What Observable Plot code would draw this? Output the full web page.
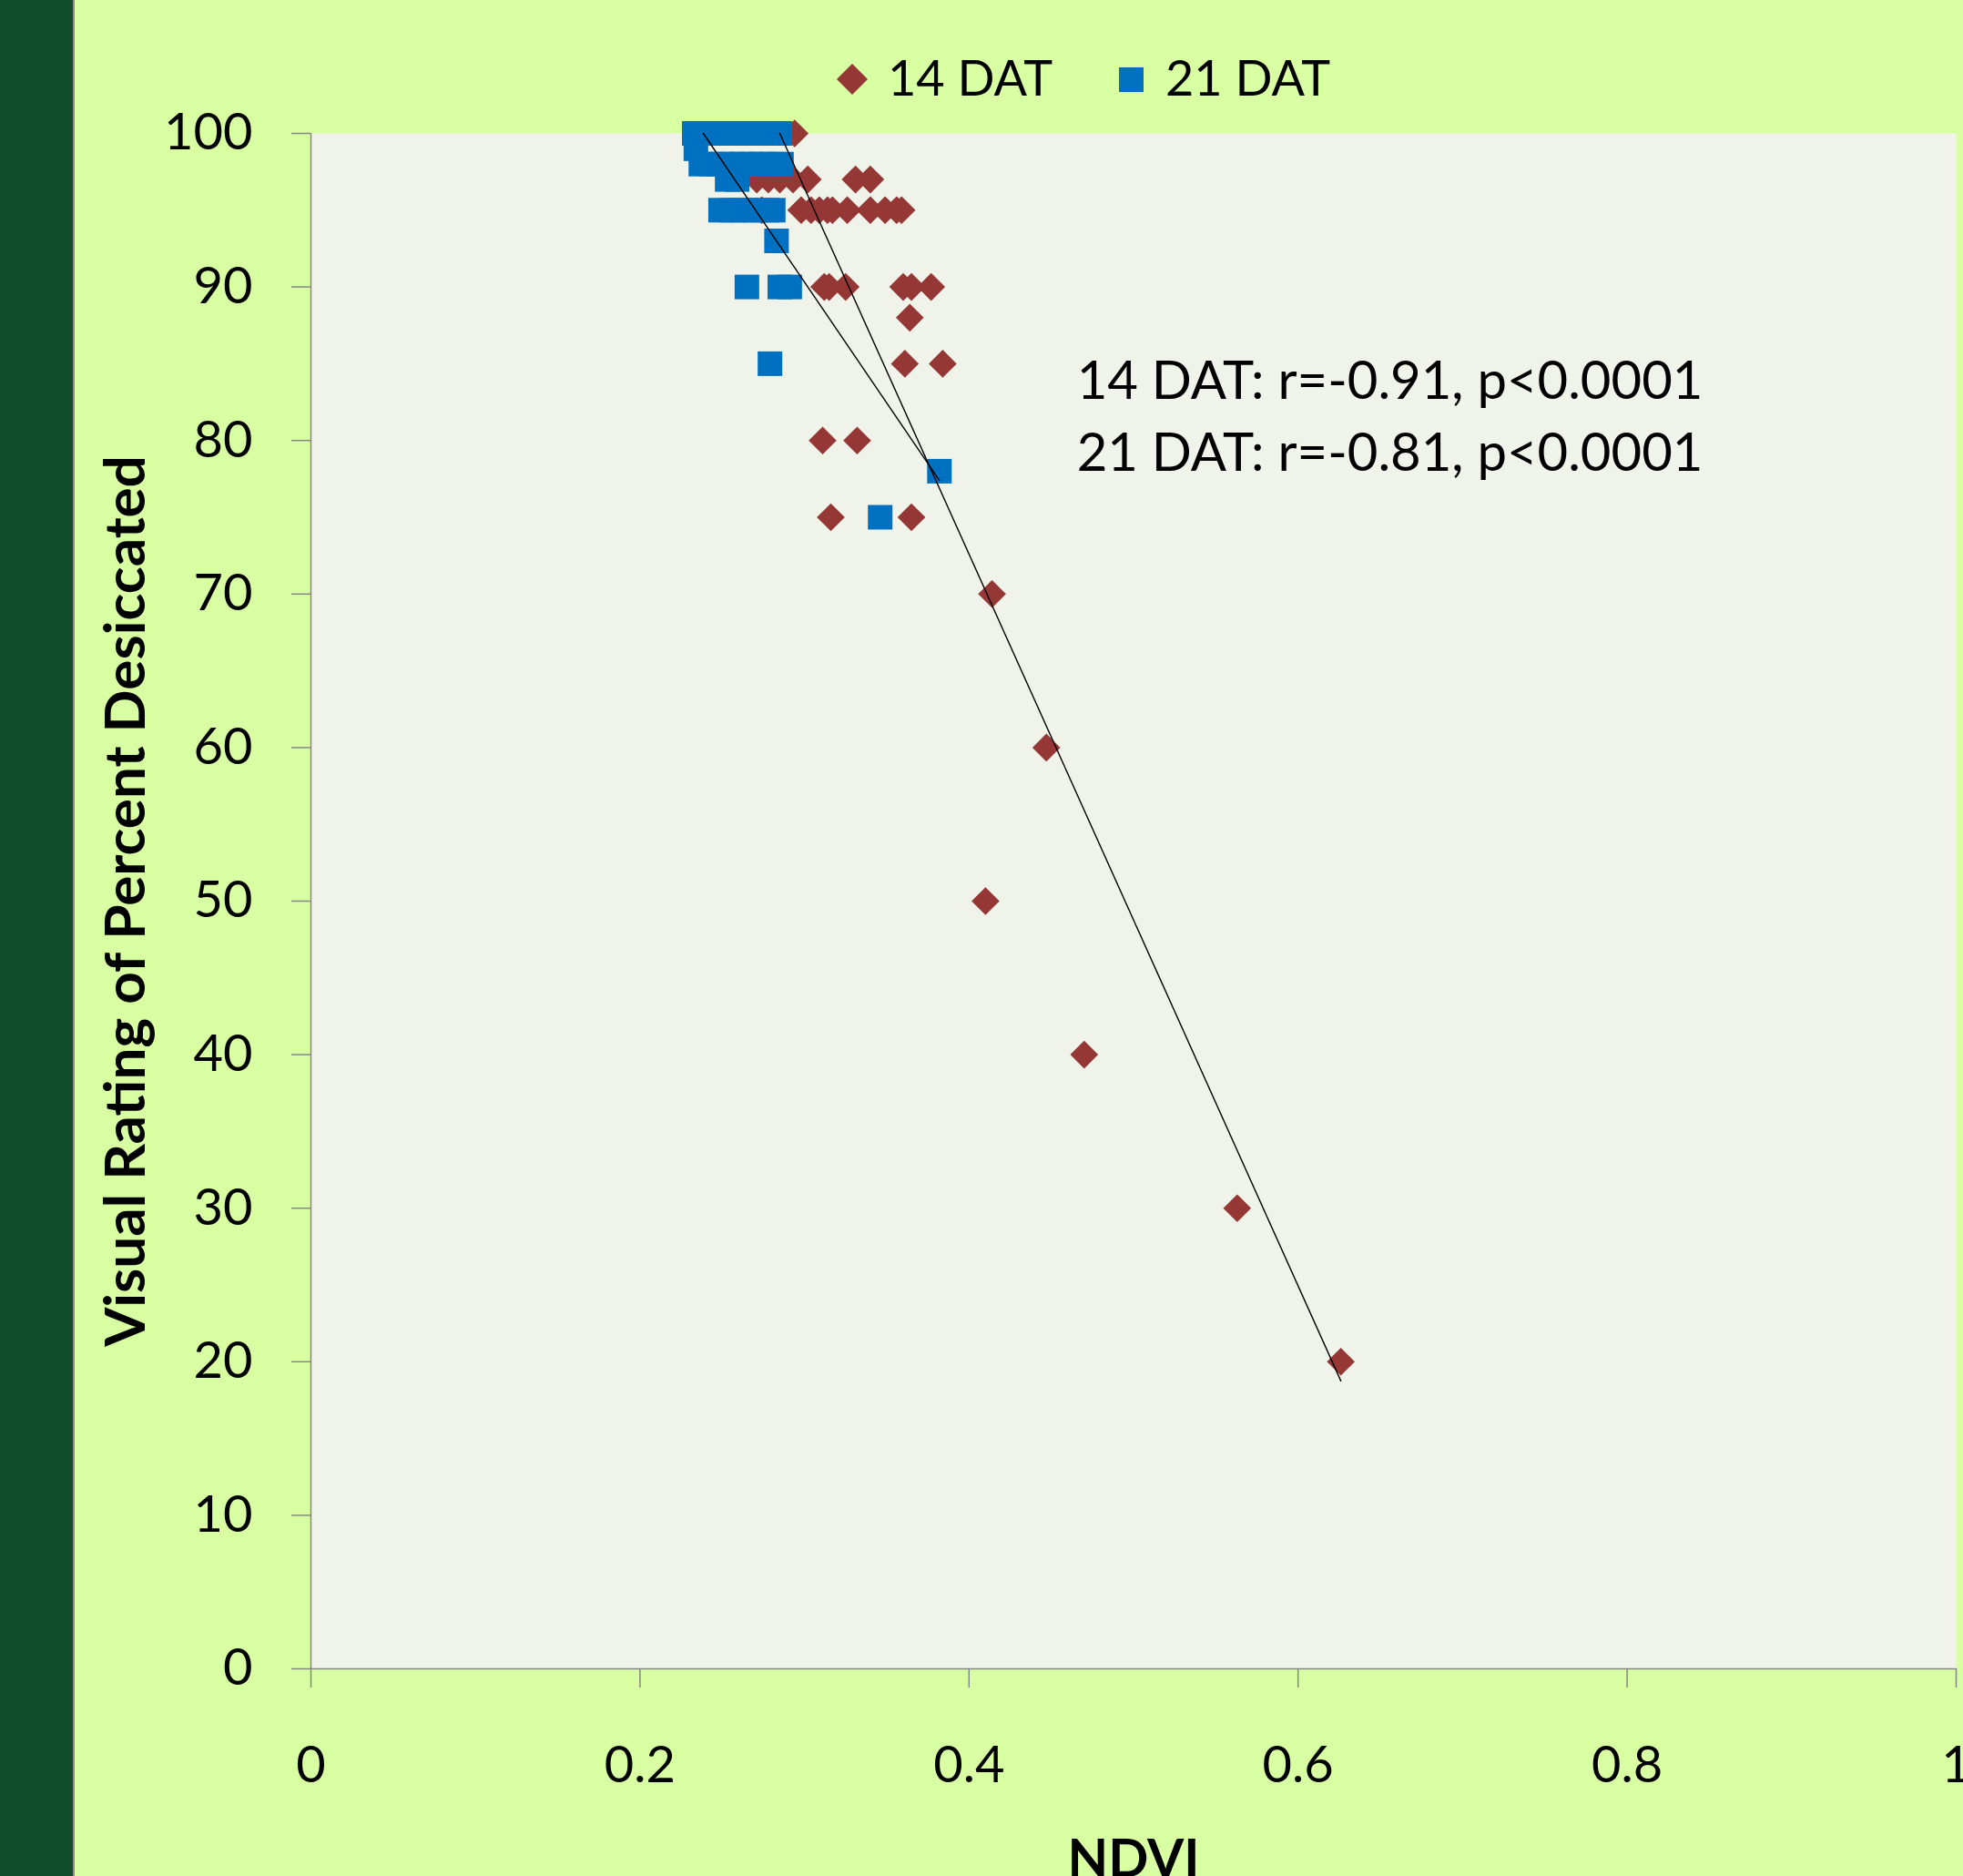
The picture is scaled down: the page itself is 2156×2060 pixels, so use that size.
<!DOCTYPE html>
<html>
<head>
<meta charset="utf-8">
<script src="https://cdn.jsdelivr.net/npm/d3@7"></script>
<script src="https://cdn.jsdelivr.net/npm/@observablehq/plot@0.6"></script>
<style>
  html, body { margin: 0; padding: 0; overflow: hidden; background: #D9FFA3; }
  #wrap { position: relative; width: 2156px; height: 2060px; background: #D9FFA3; overflow: hidden; font-family: Lato, "Open Sans", sans-serif; }
  #strip { position: absolute; left: 0; top: 0; width: 80px; height: 2060px; background: #104E2A; border-right: 2px solid #8C8C8C; }
  #chart { position: absolute; left: 0; top: 0; }
  .leg { position: absolute; font-size: 54px; line-height: 54px; color: #000; white-space: nowrap; }
  .legsym { position: absolute; }
</style>
</head>
<body>
<div id="wrap">
  <div id="strip"></div>
  <div id="chart"></div>
  <div id="legend"></div>
</div>
<script>
// ---------------- data ----------------
const seriesNames = ["14 DAT", "21 DAT"];

// 14 DAT (diamonds)
const ndvi14 = [0.294,
  0.271, 0.278, 0.285, 0.293, 0.302, 0.331, 0.340,
  0.274, 0.298, 0.304, 0.309, 0.314, 0.317, 0.326, 0.340, 0.349, 0.356, 0.359,
  0.312, 0.315, 0.325, 0.360, 0.365, 0.377,
  0.364,
  0.361, 0.384,
  0.311, 0.332,
  0.316, 0.365,
  0.414, 0.447, 0.410, 0.470, 0.563, 0.626];
const rating14 = [100,
  97, 97, 97, 97, 97, 97, 97,
  95, 95, 95, 95, 95, 95, 95, 95, 95, 95, 95,
  90, 90, 90, 90, 90, 90,
  88,
  85, 85,
  80, 80,
  75, 75,
  70, 60, 50, 40, 30, 20];

// 21 DAT (squares)
const ndvi21 = [0.233, 0.238, 0.243, 0.248, 0.253, 0.258, 0.263, 0.268, 0.273, 0.278, 0.285,
  0.234,
  0.237, 0.243, 0.250, 0.256, 0.262, 0.268, 0.274, 0.280, 0.286,
  0.253, 0.259,
  0.249, 0.256, 0.263, 0.270, 0.277, 0.281,
  0.283,
  0.265, 0.285, 0.291,
  0.279,
  0.382,
  0.346];
const rating21 = [100, 100, 100, 100, 100, 100, 100, 100, 100, 100, 100,
  99,
  98, 98, 98, 98, 98, 98, 98, 98, 98,
  97, 97,
  95, 95, 95, 95, 95, 95,
  93,
  90, 90, 90,
  85,
  78,
  75];

// Linear trendlines (end points)
const trend14Ndvi = [0.285, 0.626];
const trend14Rating = [100, 18.75];
const trend21Ndvi = [0.2385, 0.382];
const trend21Rating = [100, 77.4];

// Axis ticks and labels
const xTicks = [0, 0.2, 0.4, 0.6, 0.8, 1];
const xTickLabels = ["0", "0.2", "0.4", "0.6", "0.8", "1"];
const yTicks = [0, 10, 20, 30, 40, 50, 60, 70, 80, 90, 100];

const xTitle = "NDVI";
const yTitle = "Visual Rating of Percent Desiccated";
const annotLines = ["14 DAT: r=-0.91, p<0.0001", "21 DAT: r=-0.81, p<0.0001"];

// ---------------- build tables ----------------
const d14 = ndvi14.map((x, i) => ({ndvi: x, rating: rating14[i], series: seriesNames[0]}));
const d21 = ndvi21.map((x, i) => ({ndvi: x, rating: rating21[i], series: seriesNames[1]}));
const t14 = trend14Ndvi.map((x, i) => ({ndvi: x, rating: trend14Rating[i]}));
const t21 = trend21Ndvi.map((x, i) => ({ndvi: x, rating: trend21Rating[i]}));

// ---------------- styles ----------------
const red = "#953735";
const blue = "#0070C0";
const plotBg = "#F0F3EA";
const axisGray = "#868686";
const annotX = 0.4655;
const annotY = [82.74, 78.0];
const annot = annotLines.map((t, i) => ({text: t, x: annotX, y: annotY[i]}));

const chart = Plot.plot({
  width: 2156,
  height: 2060,
  marginLeft: 341,
  marginRight: 8,
  marginTop: 146,
  marginBottom: 228,
  style: {background: "transparent", fontFamily: "Lato, 'Open Sans', sans-serif", fontSize: "56px", color: "black", overflow: "visible"},
  x: {domain: [0, 1]},
  y: {domain: [0, 100]},
  marks: [
    Plot.frame({fill: plotBg, stroke: "none"}),
    Plot.axisY({ticks: yTicks, tickSize: 21, tickPadding: 43, stroke: axisGray, strokeWidth: 1.5, fill: "black", label: null, fontSize: 56}),
    Plot.axisX({ticks: xTicks, tickFormat: (d) => xTickLabels[xTicks.indexOf(d)], tickSize: 21, tickPadding: 64, stroke: axisGray, strokeWidth: 1.5, fill: "black", label: null, fontSize: 56}),
    Plot.ruleX([0], {stroke: axisGray, strokeWidth: 1.5}),
    Plot.ruleY([0], {stroke: axisGray, strokeWidth: 1.5}),
    Plot.dot(d14, {x: "ndvi", y: "rating", symbol: "diamond2", r: 13.8, fill: red, stroke: "none"}),
    Plot.dot(d21, {x: "ndvi", y: "rating", symbol: "square", r: 15.23, fill: blue, stroke: "none"}),
    Plot.line(t14, {x: "ndvi", y: "rating", stroke: "black", strokeWidth: 1.4}),
    Plot.line(t21, {x: "ndvi", y: "rating", stroke: "black", strokeWidth: 1.4}),
    Plot.text(annot, {x: "x", y: "y", text: "text", textAnchor: "start", lineAnchor: "bottom", fontSize: 58, fill: "black"}),
    Plot.text([yTitle], {frameAnchor: "left", rotate: -90, dx: -183, textAnchor: "middle", lineAnchor: "bottom", fontSize: 62, fontWeight: "bold", fill: "black"}),
    Plot.text([xTitle], {frameAnchor: "bottom", dy: 228, textAnchor: "middle", lineAnchor: "bottom", fontSize: 58, fontWeight: "bold", fill: "black"})
  ]
});
document.getElementById("chart").appendChild(chart);

// ---------------- legend (above the plot area) ----------------
const legend = document.getElementById("legend");
legend.innerHTML = `
  <svg class="legsym" style="left:919px;top:70px" width="34" height="34"><polygon points="17,0 34,17 17,34 0,17" fill="${red}"/></svg>
  <div class="leg" style="left:975px;top:58px">${seriesNames[0]}</div>
  <svg class="legsym" style="left:1229px;top:74px" width="27" height="27"><rect x="0" y="0" width="27" height="27" fill="${blue}"/></svg>
  <div class="leg" style="left:1280px;top:58px">${seriesNames[1]}</div>
`;
</script>
</body>
</html>
